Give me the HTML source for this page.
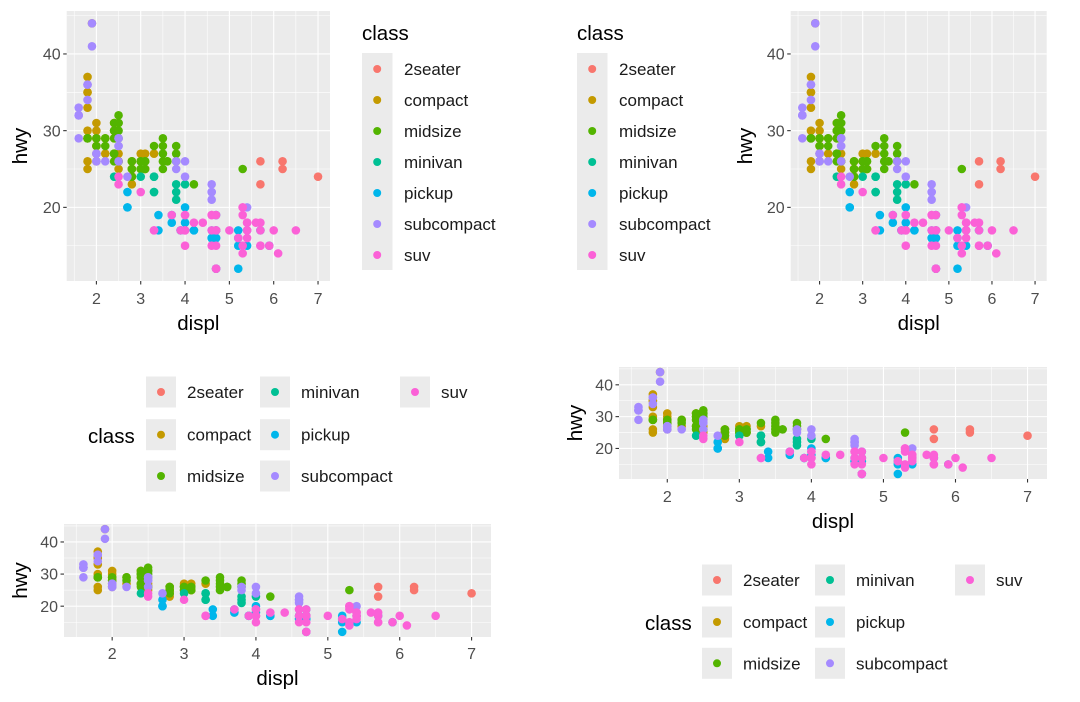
<!DOCTYPE html>
<html><head><meta charset="utf-8">
<style>
html,body{margin:0;padding:0;background:#fff;}
svg{display:block;font-family:"Liberation Sans",Arial,sans-serif;}
</style></head>
<body>
<svg id="root" width="1080" height="702" viewBox="0 0 1080 702"></svg>
<script>
const classes = ["2seater","compact","midsize","minivan","pickup","subcompact","suv"];
const colors = ["#F8766D","#C49A00","#53B400","#00C094","#00B6EB","#A58AFF","#FB61D7"];
const xTicks = [2,3,4,5,6,7];
const yTicks = [20,30,40];
const displ2seater = [5.7,5.7,6.2,6.2,7.0];
const hwy2seater   = [26,23,26,25,24];
const displCompact = [1.8,1.8,2.0,2.0,2.8,2.8,3.1,1.8,1.8,2.0,2.0,2.8,2.8,3.1,3.1,2.2,2.2,2.4,2.4,3.0,3.0,3.3,1.8,1.8,1.8,1.8,1.8,2.0,2.0,2.0,2.8,2.8,1.9,2.0,2.0,2.5,2.5,2.5,2.8,2.8,2.4,2.4,2.4,2.5];
const hwyCompact   = [29,29,31,30,26,26,27,26,25,28,27,25,25,25,25,27,29,31,30,27,26,27,35,37,35,33,30,29,29,28,24,23,44,29,26,27,26,25,24,25,27,29,31,26];
const displMidsize = [2.8,3.1,4.2,2.4,2.4,3.1,3.5,3.6,2.4,2.4,2.4,2.5,2.5,3.3,2.5,2.5,3.5,3.5,3.0,3.0,3.5,3.1,3.8,3.8,3.8,5.3,2.2,2.2,2.4,2.4,3.0,3.0,3.5,1.8,1.8,2.0,2.0,2.8,2.8,3.6,2.5,2.5];
const hwyMidsize   = [24,25,23,27,30,26,29,26,26,27,30,31,32,28,26,30,27,25,26,25,28,26,27,26,28,25,29,28,31,29,26,25,26,29,29,29,28,26,25,26,31,29];
const displMinivan = [2.4,3.0,3.3,3.3,3.3,3.3,3.8,3.8,3.8,4.0];
const hwyMinivan   = [24,24,22,22,24,24,22,21,23,23];
const displPickup = [3.7,3.7,3.9,3.9,4.7,4.7,4.7,5.2,5.2,4.7,4.7,4.7,4.7,4.7,5.2,5.2,5.7,5.9,4.2,4.2,4.6,4.6,4.6,5.4,5.4,2.7,2.7,2.7,3.4,3.4,4.0,4.0];
const hwyPickup   = [19,18,17,17,19,17,12,17,15,16,12,17,17,16,12,16,17,15,17,17,16,16,17,15,17,20,20,22,17,19,18,20];
const displSubcompact = [1.6,1.6,1.6,1.6,1.6,1.8,1.8,1.8,2.0,3.8,3.8,4.0,4.0,4.6,4.6,4.6,4.6,5.4,2.0,2.0,2.7,2.2,2.5,2.5,2.5,1.9,1.9,2.0,2.5,2.5];
const hwySubcompact   = [33,32,32,29,32,34,36,36,27,26,25,26,24,21,22,23,22,20,26,27,24,26,26,29,28,44,41,26,29,28];
const displSuv = [5.3,5.3,5.3,5.7,6.0,5.3,5.3,5.7,6.5,3.9,4.7,4.7,4.7,5.2,5.7,5.9,4.6,5.4,5.4,4.0,4.0,4.0,4.0,4.6,5.0,4.2,4.4,4.6,5.4,5.4,5.4,4.0,4.6,3.3,3.3,4.0,5.6,2.5,2.5,3.7,4.7,6.1,3.0,4.7,5.7,4.7,4.7];
const hwySuv   = [20,15,20,17,17,19,14,15,17,17,17,12,17,16,18,15,17,17,18,17,19,17,19,19,17,18,18,19,17,16,18,17,15,17,17,15,18,24,23,19,19,14,22,15,15,12,17];
const displByClass = [displ2seater,displCompact,displMidsize,displMinivan,displPickup,displSubcompact,displSuv];
const hwyByClass = [hwy2seater,hwyCompact,hwyMidsize,hwyMinivan,hwyPickup,hwySubcompact,hwySuv];

const NS="http://www.w3.org/2000/svg";
const root=document.getElementById('root');
function mk(tag,attrs,parent,text){const e=document.createElementNS(NS,tag);for(const k in attrs)e.setAttribute(k,attrs[k]);if(text!==undefined)e.textContent=text;(parent||root).appendChild(e);return e;}

const TICK_FS=16, TITLE_FS=20.5, LAB_FS=17;
const XMIN=1.33,XMAX=7.27,YMIN=10.4,YMAX=45.6;
const panels=[
 {name:'top-left',L:66.7,R:330,T:11,B:281,tickY:304,titleY:330,ylabX:27},
 {name:'top-right',L:790.7,R:1046.7,T:11,B:281,tickY:304,titleY:330,ylabX:752},
 {name:'bottom-left',L:64,R:491,T:524,B:637,tickY:659,titleY:685,ylabX:27},
 {name:'bottom-right',L:619,R:1047,T:367,B:479,tickY:502,titleY:528,ylabX:582}
];
panels.forEach(p=>{
  const g=mk('g',{});
  
  
  const sx=v=>p.L+(v-XMIN)/(XMAX-XMIN)*(p.R-p.L);
  const sy=v=>p.B-(v-YMIN)/(YMAX-YMIN)*(p.B-p.T);
  const bg=mk('rect',{x:p.L,y:p.T,width:p.R-p.L,height:p.B-p.T,fill:'#EBEBEB'},g);
  
  
  [1.5,2.5,3.5,4.5,5.5,6.5].forEach(v=>mk('line',{x1:sx(v),x2:sx(v),y1:p.T,y2:p.B,stroke:'#fff','stroke-width':0.55},g));
  [15,25,35,45].forEach(v=>mk('line',{x1:p.L,x2:p.R,y1:sy(v),y2:sy(v),stroke:'#fff','stroke-width':0.55},g));
  xTicks.forEach(v=>{
    mk('line',{x1:sx(v),x2:sx(v),y1:p.T,y2:p.B,stroke:'#fff','stroke-width':1.1},g);
    mk('line',{x1:sx(v),x2:sx(v),y1:p.B,y2:p.B+3.5,stroke:'#333','stroke-width':1.1},g);
    const t=mk('text',{x:sx(v),y:p.tickY,'text-anchor':'middle','font-size':TICK_FS,fill:'#4D4D4D'},g,String(v));
    
    
  });
  yTicks.forEach(v=>{
    mk('line',{x1:p.L,x2:p.R,y1:sy(v),y2:sy(v),stroke:'#fff','stroke-width':1.1},g);
    mk('line',{x1:p.L-3.5,x2:p.L,y1:sy(v),y2:sy(v),stroke:'#333','stroke-width':1.1},g);
    const t=mk('text',{x:p.L-6,y:sy(v)+5.6,'text-anchor':'end','font-size':TICK_FS,fill:'#4D4D4D'},g,String(v));
    
    
  });
  displByClass.forEach((xs,ci)=>{
    xs.forEach((x,i)=>{
      const c=mk('circle',{cx:sx(x),cy:sy(hwyByClass[ci][i]),r:4.3,fill:colors[ci]},g);
      
      
    });
  });
  const xt=mk('text',{x:(p.L+p.R)/2,y:p.titleY,'text-anchor':'middle','font-size':TITLE_FS,fill:'#000'},g,'displ');
  
  
  const cy=(p.T+p.B)/2;
  const yt=mk('text',{x:p.ylabX,y:cy,'text-anchor':'middle','font-size':TITLE_FS,fill:'#000',transform:`rotate(-90 ${p.ylabX} ${cy})`},g,'hwy');
  
  
});

// vertical legends
[[362,404],[577,619]].forEach((pos,li)=>{
  const g=mk('g',{});
  
  
  const tt=mk('text',{x:pos[0],y:40,'font-size':TITLE_FS,fill:'#000'},g,'class');
  
  
  mk('rect',{x:pos[0],y:53,width:30.5,height:217,fill:'#EBEBEB'},g);
  classes.forEach((c,i)=>{
    const yc=69+i*31;
    const e=mk('g',{},g);
    
    
    mk('circle',{cx:pos[0]+15.2,cy:yc,r:4,fill:colors[i]},e);
    mk('text',{x:pos[1],y:yc+6,'font-size':LAB_FS,fill:'#1a1a1a'},e,c);
  });
});

// horizontal legends
const legendsH=[
 {title:[88,443],cols:[146,260,400],rows:[392,434.7,476]},
 {title:[645,630],cols:[702,815,955],rows:[580,622,663.3]}
];
legendsH.forEach((L,li)=>{
  const g=mk('g',{});
  
  
  const tt=mk('text',{x:L.title[0],y:L.title[1],'font-size':TITLE_FS,fill:'#000'},g,'class');
  
  
  classes.forEach((c,i)=>{
    const col=Math.floor(i/3),row=i%3;
    const x=L.cols[col],yc=L.rows[row];
    const e=mk('g',{},g);
    
    
    mk('rect',{x:x,y:yc-15.5,width:30,height:31,fill:'#EBEBEB'},e);
    mk('circle',{cx:x+15,cy:yc,r:4,fill:colors[i]},e);
    mk('text',{x:x+41,y:yc+6,'font-size':LAB_FS,fill:'#1a1a1a'},e,c);
  });
});
</script>
</body></html>
